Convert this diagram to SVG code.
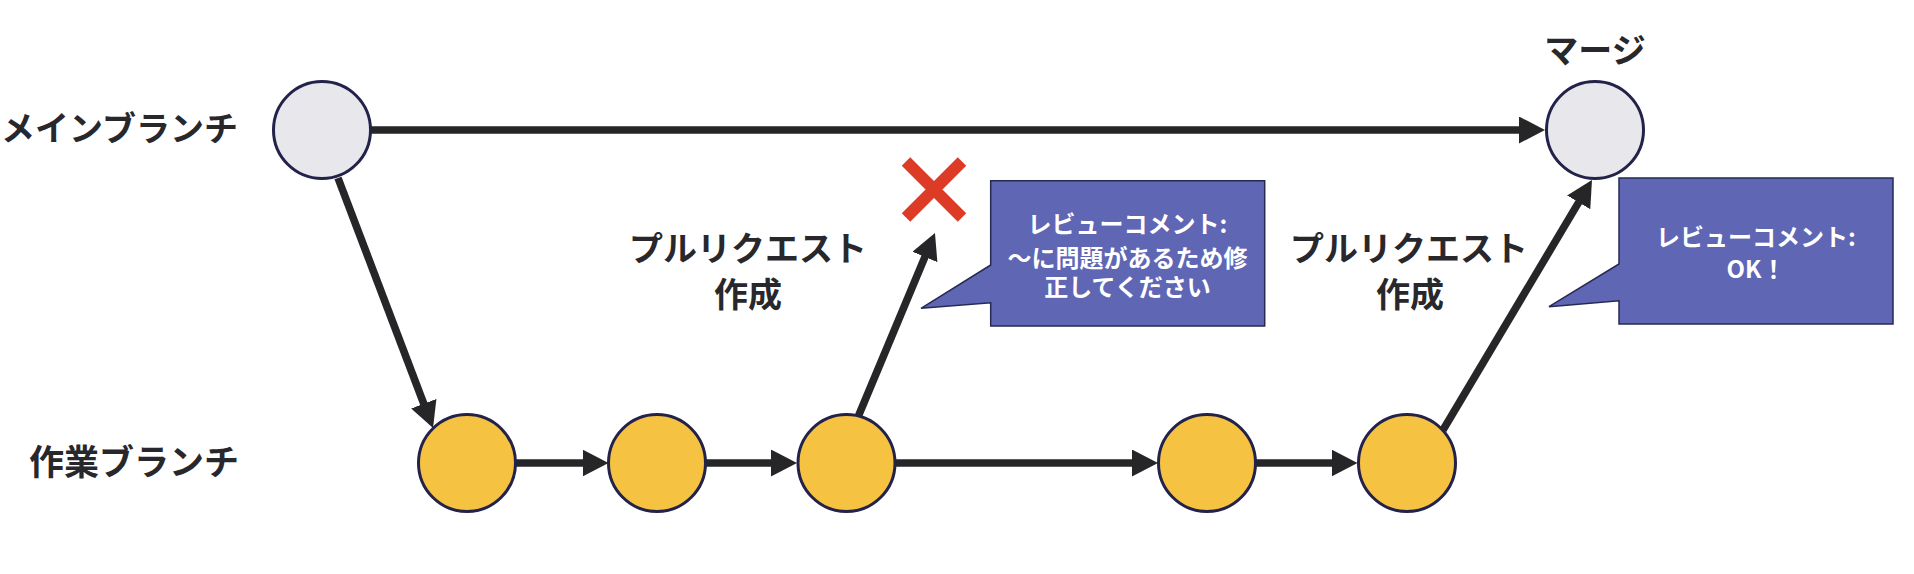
<svg xmlns="http://www.w3.org/2000/svg" width="1914" height="574" viewBox="0 0 1914 574">
<defs>
<style>
.lbl{font-family:"Noto Sans CJK JP","Noto Sans",sans-serif;font-weight:bold;fill:#28282c;}
.ct{font-family:"Noto Sans CJK JP","Noto Sans",sans-serif;font-weight:bold;fill:#ffffff;font-size:24px;text-anchor:middle;}
.main{fill:#e8e8ec;stroke:#22224a;stroke-width:3;}
.work{fill:#f5c242;stroke:#22224a;stroke-width:3;}
.conn{stroke:#262629;stroke-width:7.6;fill:none;marker-end:url(#arr);}
.callout{fill:#5f66b4;stroke:#262a52;stroke-width:1.5;}
</style>
<marker id="arr" viewBox="0 0 26 27" refX="2" refY="13.5" markerWidth="26" markerHeight="27" markerUnits="userSpaceOnUse" orient="auto">
<path d="M0,0 L26,13.5 L0,27 Z" fill="#262629"/>
</marker>
</defs>
<rect width="1914" height="574" fill="#ffffff"/>

<g id="connectors">
<line class="conn" x1="370" y1="130" x2="1521" y2="130"/>
<line class="conn" x1="338" y1="178" x2="424.5" y2="405.6"/>
<line class="conn" x1="515" y1="463" x2="584.5" y2="463"/>
<line class="conn" x1="705" y1="463" x2="773" y2="463"/>
<line class="conn" x1="894" y1="463" x2="1134" y2="463"/>
<line class="conn" x1="1255" y1="463" x2="1333.5" y2="463"/>
<line class="conn" x1="858" y1="417" x2="925.7" y2="255.1"/>
<line class="conn" x1="1443" y1="430" x2="1579.7" y2="200.6"/>
</g>

<g id="label-main"><text class="lbl" font-size="34" x="238" y="141" text-anchor="end">メインブランチ</text></g>
<g id="label-work"><text class="lbl" font-size="35" x="239" y="475" text-anchor="end">作業ブランチ</text></g>
<g id="label-merge"><text class="lbl" font-size="34" x="1595" y="62.5" text-anchor="middle">マージ</text></g>
<g id="label-pr1">
<text class="lbl" font-size="34" x="748" y="261" text-anchor="middle">プルリクエスト</text>
<text class="lbl" font-size="34" x="748" y="307" text-anchor="middle">作成</text>
</g>
<g id="label-pr2">
<text class="lbl" font-size="34" x="1409" y="261" text-anchor="middle">プルリクエスト</text>
<text class="lbl" font-size="34" x="1410" y="307" text-anchor="middle">作成</text>
</g>

<g id="node-main-start"><circle class="main" cx="322" cy="130" r="48.5"/></g>
<g id="node-merge"><circle class="main" cx="1595" cy="130" r="48.5"/></g>
<g id="node-work1"><circle class="work" cx="467" cy="463" r="48.5"/></g>
<g id="node-work2"><circle class="work" cx="657" cy="463" r="48.5"/></g>
<g id="node-work3"><circle class="work" cx="846.5" cy="463" r="48.5"/></g>
<g id="node-work4"><circle class="work" cx="1207" cy="463" r="48.5"/></g>
<g id="node-work5"><circle class="work" cx="1407" cy="463" r="48.5"/></g>

<g id="reject-mark">
<path d="M906,161.5 L962,217.5 M962,161.5 L906,217.5" stroke="#dc3c26" stroke-width="12" fill="none"/>
</g>

<g id="callout-1">
<path class="callout" d="M990.7,180.7 H1264.7 V326 H990.7 V302.7 L921,308.3 L990.7,265 Z"/>
<text class="ct" x="1127.5" y="232.7">レビューコメント:</text>
<text class="ct" x="1127.5" y="267">～に問題があるため修</text>
<text class="ct" x="1127.5" y="296.2">正してください</text>
</g>

<g id="callout-2">
<path class="callout" d="M1619,178 H1893 V324 H1619 V300.7 L1549,306.7 L1619,264 Z"/>
<text class="ct" x="1756" y="245.7">レビューコメント:</text>
<text class="ct" x="1756" y="277.7">OK！</text>
</g>
</svg>
